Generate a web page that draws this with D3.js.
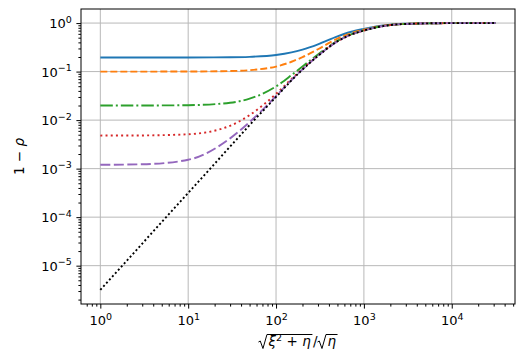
<!DOCTYPE html>
<html>
<head>
<meta charset="utf-8">
<script src="https://cdn.jsdelivr.net/npm/d3@7"></script>
<style>
body { margin: 0; background: #fff; }
text { font-family: "DejaVu Sans", sans-serif; fill: #000; }
</style>
</head>
<body>
<svg width="527" height="359"></svg>
<script>
var xVals = [1, 3, 10, 30, 50, 100, 150, 200, 300, 500, 700, 1000, 1500, 2000, 3000, 5000, 10000, 31623];

var blueVals   = [0.195, 0.19502, 0.1953, 0.1973, 0.2014, 0.2192, 0.2481, 0.2836, 0.364, 0.533, 0.654, 0.759, 0.871, 0.928, 0.968, 0.988, 0.998, 1.0];
var orangeVals = [0.1, 0.10003, 0.1003, 0.1026, 0.1071, 0.127, 0.1594, 0.199, 0.289, 0.478, 0.613, 0.73, 0.856, 0.919, 0.964, 0.987, 0.997, 1.0];
var greenVals  = [0.02, 0.02003, 0.0203, 0.0228, 0.0277, 0.0494, 0.0847, 0.1278, 0.2258, 0.4316, 0.5786, 0.706, 0.843, 0.912, 0.961, 0.985, 0.997, 1.0];
var redVals    = [0.0048, 0.00483, 0.00511, 0.00763, 0.01266, 0.0347, 0.0705, 0.1143, 0.2138, 0.4228, 0.5693, 0.7014, 0.8408, 0.9104, 0.9602, 0.985, 0.997, 1.0];
var purpleVals = [0.0012, 0.00123, 0.00152, 0.0042, 0.0091, 0.0312, 0.0671, 0.1111, 0.211, 0.4207, 0.5705, 0.7004, 0.8402, 0.9101, 0.9600, 0.985, 0.997, 1.0];
var blackVals  = [3.16e-6, 2.85e-5, 3.16e-4, 2.84e-3, 7.9e-3, 0.030, 0.066, 0.11, 0.21, 0.42, 0.57, 0.70, 0.84, 0.91, 0.96, 0.985, 0.997, 1.0];

var xTicks = [1, 10, 100, 1000, 10000];
var yTicks = [1e-5, 1e-4, 1e-3, 1e-2, 1e-1, 1];

var series = [
	{vals: blueVals,   color: '#1f77b4', dash: null},
	{vals: orangeVals, color: '#ff7f0e', dash: '7,3'},
	{vals: greenVals,  color: '#2ca02c', dash: '12.5,3,2,3'},
	{vals: redVals,    color: '#d62728', dash: '2,3.2'},
	{vals: purpleVals, color: '#9467bd', dash: '10,3.5'},
	{vals: blackVals,  color: '#000000', dash: '2,2.4'}
];

var svg = d3.select('svg');
var padding = {t: 9, r: 12, b: 55, l: 81};
var width = +svg.attr('width');
var height = +svg.attr('height');

var xScale = d3.scaleLog()
	.domain([Math.pow(10, -0.22), Math.pow(10, 4.72)])
	.range([padding.l, width - padding.r]);

var yScale = d3.scaleLog()
	.domain([Math.pow(10, -5.79), Math.pow(10, 0.29)])
	.range([height - padding.b, padding.t]);

var x0 = padding.l, x1 = width - padding.r;
var y0 = height - padding.b, y1 = padding.t;

// grid
var gridG = svg.append('g');
xTicks.forEach(function(d) {
	gridG.append('line')
		.attr('x1', xScale(d)).attr('x2', xScale(d))
		.attr('y1', y0).attr('y2', y1)
		.attr('stroke', '#b8b8b8').attr('stroke-width', 1);
});
yTicks.forEach(function(d) {
	gridG.append('line')
		.attr('x1', x0).attr('x2', x1)
		.attr('y1', yScale(d)).attr('y2', yScale(d))
		.attr('stroke', '#b8b8b8').attr('stroke-width', 1);
});

// curves
var line = d3.line()
	.x(function(d) { return xScale(d[0]); })
	.y(function(d) { return yScale(d[1]); })
	.curve(d3.curveMonotoneX);

svg.append('clipPath').attr('id', 'clip')
	.append('rect').attr('x', x0).attr('y', y1).attr('width', x1 - x0).attr('height', y0 - y1);

var lineG = svg.append('g').attr('clip-path', 'url(#clip)');
series.forEach(function(s) {
	var pts = xVals.map(function(x, i) { return [x, s.vals[i]]; });
	lineG.append('path')
		.attr('d', line(pts))
		.attr('fill', 'none')
		.attr('stroke', s.color)
		.attr('stroke-width', 1.9)
		.attr('stroke-dasharray', s.dash);
});

// minor ticks
function minors(lo, hi) {
	var out = [];
	for (var k = lo; k <= hi; k++) {
		for (var m = 2; m <= 9; m++) out.push(m * Math.pow(10, k));
	}
	return out;
}
var xDom = xScale.domain(), yDom = yScale.domain();
var xMinor = minors(-1, 4).filter(function(v) { return v >= xDom[0] && v <= xDom[1]; });
var yMinor = minors(-6, 0).filter(function(v) { return v >= yDom[0] && v <= yDom[1]; });

function expLabel(sel) {
	sel.each(function(d) {
		var e = Math.round(Math.log10(d));
		var t = d3.select(this).text('');
		t.append('tspan').text('10');
		t.append('tspan').attr('dy', -5.5).attr('font-size', 9.5)
			.text(e < 0 ? '\u2212' + (-e) : '' + e);
	});
}

var xAxisG = svg.append('g').attr('transform', 'translate(0,' + y0 + ')');
var xMinorG = xAxisG.append('g').call(d3.axisBottom(xScale).tickValues(xMinor).tickFormat('').tickSize(2.6).tickSizeOuter(0));
xMinorG.selectAll('text').remove();
var xMajorG = xAxisG.append('g').call(d3.axisBottom(xScale).tickValues(xTicks).tickSize(4.6).tickPadding(4.6).tickSizeOuter(0));
xAxisG.selectAll('.domain').remove();
xMajorG.selectAll('text').attr('font-size', 13).attr('y', 21).attr('dy', 0)
	.attr('font-family', '"DejaVu Sans", sans-serif').call(expLabel);

var yAxisG = svg.append('g').attr('transform', 'translate(' + x0 + ',0)');
var yMinorG = yAxisG.append('g').call(d3.axisLeft(yScale).tickValues(yMinor).tickFormat('').tickSize(2.6).tickSizeOuter(0));
yMinorG.selectAll('text').remove();
var yMajorG = yAxisG.append('g').call(d3.axisLeft(yScale).tickValues(yTicks).tickSize(4.6).tickPadding(4.6).tickSizeOuter(0));
yAxisG.selectAll('.domain').remove();
yMajorG.selectAll('text').attr('font-size', 13).attr('dy', '0.36em')
	.attr('font-family', '"DejaVu Sans", sans-serif').call(expLabel);

svg.selectAll('.tick line').attr('stroke', '#000').attr('stroke-width', 1);

// frame
svg.append('rect')
	.attr('x', x0).attr('y', y1).attr('width', x1 - x0).attr('height', y0 - y1)
	.attr('fill', 'none').attr('stroke', '#000').attr('stroke-width', 1);

// y label
svg.append('text')
	.attr('transform', 'translate(24,' + ((y0 + y1) / 2) + ') rotate(-90)')
	.attr('text-anchor', 'middle')
	.attr('font-size', 13.5)
	.html('1 \u2212 <tspan font-style="italic">\u03c1</tspan>');

// x label: sqrt(xi^2 + eta) / sqrt(eta)
var fs = 13.5, base = 346;
var labG = svg.append('g');
var cx = 0;
function piece(txt, italic, size, dy) {
	var t = labG.append('text').attr('x', cx).attr('y', base + (dy || 0))
		.attr('font-size', size || fs).text(txt);
	if (italic) t.attr('font-style', 'italic');
	cx += t.node().getComputedTextLength();
	return t;
}
function radical(startX, endX) {
	var top = base - 11.5;
	labG.append('path')
		.attr('d', 'M' + startX + ',' + (base - 4) + 'L' + (startX + 1.8) + ',' + (base - 5) +
			'L' + (startX + 4.5) + ',' + (base + 2.5) + 'L' + (startX + 8.5) + ',' + top + 'L' + endX + ',' + top)
		.attr('fill', 'none').attr('stroke', '#000').attr('stroke-width', 1);
}
var r1 = cx; cx += 10;
piece('\u03be', true);
piece('2', false, 9.5, -5.5);
cx += 4.5;
piece('+', false);
cx += 4.5;
piece('\u03b7', true);
radical(r1, cx + 1.5);
cx += 2;
piece('/', false);
var r2 = cx; cx += 10;
piece('\u03b7', true);
radical(r2, cx + 1.5);
var totalW = cx + 1.5;
labG.attr('transform', 'translate(' + ((x0 + x1) / 2 - totalW / 2) + ',0)');
</script>
</body>
</html>
